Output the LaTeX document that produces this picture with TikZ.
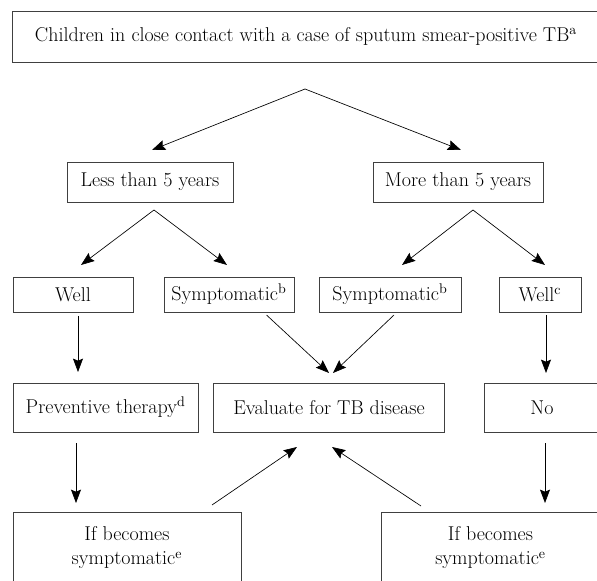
\documentclass[tikz,border=0pt]{standalone}
\usepackage{tikz}
\usetikzlibrary{arrows.meta}
\usetikzlibrary {positioning}
\tikzset{box node/.style={rectangle,draw=black!75,line width=0.7pt,inner sep=0pt,align=center,font=\fontsize{15}{18}\selectfont}}
\tikzset{arr/.style={-{Stealth[length=10pt,width=7.5pt,inset=1.5pt]},line width=0.5pt}}

\begin{document}
\begin{tikzpicture}[x=0.75pt,y=-0.75pt]
    \useasboundingbox (0,0) rectangle (597,581);
    	\node[box node,minimum width=440.6pt,minimum height=38.25pt] (v_{1}) at (306,36.5) {Children in close contact with a case of sputum smear-positive TB\textsuperscript{a}};
    	\node[box node,minimum width=124.5pt,minimum height=30pt] (v_{2}) at (150,182) {Less than 5 years};
    	\node[box node,minimum width=127.5pt,minimum height=30pt] (v_{3}) at (458,182) {More than 5 years};
    	\node[box node,minimum width=90pt,minimum height=26.25pt] (v_{4}) at (73,294.5) {Well};
    	\node[box node,minimum width=97.5pt,minimum height=26.25pt] (v_{5}) at (229,294.5) {Symptomatic\textsuperscript{b}};
    	\node[box node,minimum width=106.5pt,minimum height=26.25pt] (v_{6}) at (390,294.5) {Symptomatic\textsuperscript{b}};
    	\node[box node,minimum width=61.5pt,minimum height=26.25pt] (v_{7}) at (540,294.5) {Well\textsuperscript{c}};
    	\node[box node,minimum width=138.75pt,minimum height=36.75pt] (v_{8}) at (105.6,407.5) {Preventive therapy\textsuperscript{d}};
    	\node[box node,minimum width=173.7pt,minimum height=36.75pt] (v_{9}) at (329,407.5) {Evaluate for TB disease};
    	\node[box node,minimum width=87pt,minimum height=36.75pt] (v_{10}) at (542,407.5) {No};
    	\node[box node,minimum width=171pt,minimum height=54pt] (v_{11}) at (127,548) {If becomes\\symptomatic\textsuperscript{e}};
    	\node[box node,minimum width=164.25pt,minimum height=54pt] (v_{12}) at (490.5,548) {If becomes\\symptomatic\textsuperscript{e}};

    	% arrow ends
    	\coordinate (c_{1}) at (305,89);
    	\coordinate (c_{2}) at (152,150);
    	\coordinate (c_{3}) at (461,150);
    	\coordinate (c_{4}) at (154,210);
    	\coordinate (c_{5}) at (81,265);
    	\coordinate (c_{6}) at (227,265);
    	\coordinate (c_{7}) at (473,210);
    	\coordinate (c_{8}) at (402,265);
    	\coordinate (c_{9}) at (545,265);
    	\coordinate (c_{10}) at (78,316);
    	\coordinate (c_{11}) at (78,372);
    	\coordinate (c_{12}) at (266.5,315);
    	\coordinate (c_{13}) at (329,373);
    	\coordinate (c_{14}) at (394,315);
    	\coordinate (c_{15}) at (333,373);
    	\coordinate (c_{16}) at (546,315);
    	\coordinate (c_{17}) at (546,373);
    	\coordinate (c_{18}) at (76,443);
    	\coordinate (c_{19}) at (76,503);
    	\coordinate (c_{20}) at (212,505);
    	\coordinate (c_{21}) at (297,447);
    	\coordinate (c_{22}) at (421,506);
    	\coordinate (c_{23}) at (332,447);
    	\coordinate (c_{24}) at (545,443);
    	\coordinate (c_{25}) at (545,503);

    	\draw[arr] (c_{1}) -- (c_{2});
    	\draw[arr] (c_{1}) -- (c_{3});
    	\draw[arr] (c_{4}) -- (c_{5});
    	\draw[arr] (c_{4}) -- (c_{6});
    	\draw[arr] (c_{7}) -- (c_{8});
    	\draw[arr] (c_{7}) -- (c_{9});
    	\draw[arr] (c_{10}) -- (c_{11});
    	\draw[arr] (c_{12}) -- (c_{13});
    	\draw[arr] (c_{14}) -- (c_{15});
    	\draw[arr] (c_{16}) -- (c_{17});
    	\draw[arr] (c_{18}) -- (c_{19});
    	\draw[arr] (c_{20}) -- (c_{21});
    	\draw[arr] (c_{22}) -- (c_{23});
    	\draw[arr] (c_{24}) -- (c_{25});
\end{tikzpicture}
\end{document}
